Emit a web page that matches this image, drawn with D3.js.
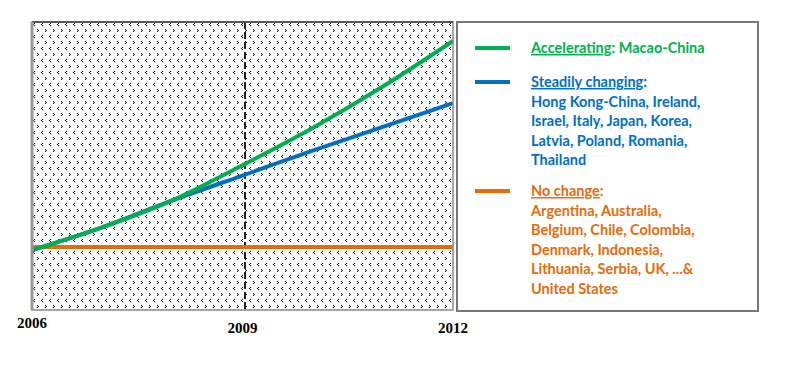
<!DOCTYPE html>
<html><head><meta charset="utf-8">
<script src="https://cdn.jsdelivr.net/npm/d3@7"></script>
<style>body{margin:0;background:#fff}svg{display:block}</style>
</head><body>
<script>
const years = [2006, 2007, 2008, 2009, 2010, 2011, 2012];
const accelerating = [-1, 10, 23, 40, 58, 78, 100];
const steady = [-1, 10, 23, 35, 47, 58.5, 70];
const noChange = [0.5, 0.5, 0.5, 0.5, 0.5, 0.5, 0.5];
const tickYears = [2006, 2009, 2012];
const markerYear = [2009];
const legendItems = [
  {key: "Accelerating", rest: ": Macao-China", lines: []},
  {key: "Steadily changing", rest: ":", lines: ["Hong Kong-China, Ireland,", "Israel, Italy, Japan, Korea,", "Latvia, Poland, Romania,", "Thailand"]},
  {key: "No change", rest: ":", lines: ["Argentina, Australia,", "Belgium, Chile, Colombia,", "Denmark, Indonesia,", "Lithuania, Serbia, UK, ...&", "United States"]}
];
const colors = ["#00B050", "#0070C0", "#E46C0A"];
const seriesVals = [accelerating, steady, noChange];

const W = 790, H = 368;
const plot = {left: 32, right: 453, top: 22, bottom: 310};
const svg = d3.select("body").append("svg").attr("width", W).attr("height", H);
const defs = svg.append("defs");
const pat = defs.append("pattern").attr("id", "dots").attr("patternUnits", "userSpaceOnUse")
  .attr("width", 8).attr("height", 12).attr("x", plot.left).attr("y", plot.top);
pat.append("rect").attr("width", 8).attr("height", 12).attr("fill", "#fff");
[[2,1],[1,2],[2,3],[5,7],[6,8],[5,9]].forEach(([x,y]) =>
  pat.append("rect").attr("x", x).attr("y", y).attr("width", 1).attr("height", 1).attr("fill", "#000"));

const x = d3.scaleLinear().domain([2006, 2012]).range([plot.left, plot.right]);
const y = d3.scaleLinear().domain([0, 100]).range([248, 41]);

svg.append("rect").attr("x", plot.left).attr("y", plot.top)
  .attr("width", plot.right - plot.left).attr("height", plot.bottom - plot.top)
  .attr("fill", "url(#dots)");

// dashed marker
svg.selectAll("line.marker").data(markerYear).join("line").attr("class", "marker")
  .attr("x1", d => x(d) + 2.5).attr("x2", d => x(d) + 2.5).attr("y1", plot.top).attr("y2", plot.bottom)
  .attr("stroke", "#222").attr("stroke-width", 2).attr("stroke-dasharray", "7,3");

const line = d3.line().x((d, i) => x(years[i])).y(d => y(d)).curve(d3.curveMonotoneX);
[2, 1, 0].forEach(i => {
  svg.append("path").datum(seriesVals[i]).attr("d", line).attr("fill", "none")
    .attr("stroke", colors[i]).attr("stroke-width", 4);
});

// plot border
svg.append("rect").attr("x", plot.left).attr("y", plot.top)
  .attr("width", plot.right - plot.left).attr("height", plot.bottom - plot.top)
  .attr("fill", "none").attr("stroke", "#8a8a8a").attr("stroke-width", 1.5);
svg.append("line").attr("x1", plot.left).attr("x2", plot.right).attr("y1", plot.top).attr("y2", plot.top)
  .attr("stroke", "#555").attr("stroke-width", 2);
svg.append("line").attr("x1", plot.left).attr("x2", plot.left).attr("y1", plot.top).attr("y2", plot.bottom)
  .attr("stroke", "#999").attr("stroke-width", 3);

// axis labels
svg.selectAll("text.tick").data(tickYears).join("text").attr("class", "tick")
  .attr("x", d => x(d)).attr("y", (d, i) => i === 0 ? 328 : 333)
  .attr("text-anchor", "middle")
  .attr("font-family", "'Liberation Serif', 'Times New Roman', serif")
  .attr("font-weight", "bold").attr("font-size", 15).attr("fill", "#000")
  .text(d => d);

// legend
const lg = {left: 457, right: 758, top: 22, bottom: 311};
svg.append("rect").attr("x", lg.left).attr("y", lg.top).attr("width", lg.right - lg.left)
  .attr("height", lg.bottom - lg.top).attr("fill", "#fff").attr("stroke", "#777").attr("stroke-width", 2);

const lineH = 19.5;
const startY = [53, 87, 196];
const fs = 14.5;
legendItems.forEach((it, i) => {
  const by = startY[i];
  svg.append("line").attr("x1", 475).attr("x2", 510).attr("y1", by - 5).attr("y2", by - 5)
    .attr("stroke", colors[i]).attr("stroke-width", 4);
  const t = svg.append("text").attr("x", 531).attr("y", by)
    .attr("font-family", "Lato, 'Open Sans', sans-serif").attr("font-weight", "bold")
    .attr("font-size", fs).attr("fill", colors[i]);
  t.append("tspan").attr("text-decoration", "underline").text(it.key);
  t.append("tspan").text(it.rest);
  it.lines.forEach((l, j) => {
    svg.append("text").attr("x", 531).attr("y", by + (j + 1) * lineH)
      .attr("font-family", "Lato, 'Open Sans', sans-serif").attr("font-weight", "bold")
      .attr("font-size", fs).attr("fill", colors[i]).text(l);
  });
});
</script>
</body></html>
